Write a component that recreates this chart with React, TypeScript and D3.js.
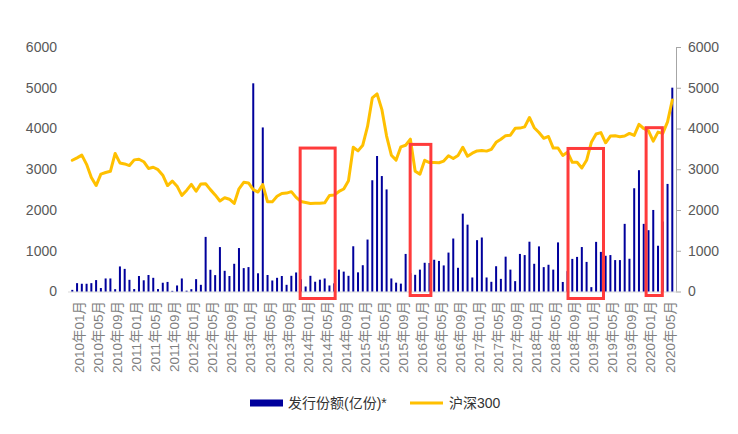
import React from "react";
import * as d3 from "d3";

// Monthly issuance (亿份), 2010-01 .. 2020-07
const issuance: number[] = [
  40, 205, 190, 190, 205, 280, 85, 320, 320, 57, 615, 555,
  287, 60, 380, 275, 405, 336, 60, 215, 235, 16, 148, 320,
  20, 57, 303, 164, 1340, 533, 402, 1090, 508, 380, 680, 1066,
  574, 599, 5109, 447, 4026, 405, 270, 336, 380, 164, 385, 467,
  300, 123, 385, 240, 290, 320, 148, 200, 537, 488, 385, 1110,
  470, 645, 1275, 2730, 3325, 2833, 2505, 320, 217, 193, 922, 450,
  410, 537, 705, 700, 779, 750, 640, 955, 1300, 582, 1910, 1640,
  344, 1260, 1325, 344, 238, 620, 310, 855, 537, 254, 922, 894,
  1222, 680, 1107, 598, 656, 537, 1205, 234, 500, 800, 849, 1091,
  726, 107, 1218, 972, 877, 894, 771, 771, 1660, 804, 2534, 2977,
  1660, 1505, 2001, 1123, 1718, 2640, 5002,
];

// CSI 300 monthly close, 2010-01 .. 2020-07
const csi300: number[] = [
  3220, 3280, 3346, 3120, 2800, 2600, 2880, 2920, 2950, 3387, 3155, 3130,
  3090, 3230, 3245, 3185, 3020, 3050, 2990, 2855, 2600, 2710, 2585, 2360,
  2480, 2630, 2460, 2640, 2645, 2500, 2370, 2220, 2300, 2265, 2160, 2520,
  2680, 2665, 2500, 2440, 2625, 2200, 2200, 2337, 2405, 2415, 2450, 2310,
  2210, 2185, 2160, 2165, 2165, 2175, 2355, 2370, 2455, 2515, 2720, 3540,
  3450, 3590, 4050, 4750, 4850, 4470, 3815, 3345, 3225, 3550, 3590, 3740,
  2950, 2880, 3220, 3165, 3165, 3160, 3200, 3330, 3265, 3340, 3540, 3320,
  3395, 3450, 3460, 3445, 3490, 3660, 3735, 3825, 3835, 4005, 4010, 4040,
  4270, 4020, 3900, 3760, 3805, 3520, 3520, 3338, 3420, 3170, 3170, 3030,
  3220, 3660, 3865, 3900, 3650, 3815, 3820, 3800, 3815, 3880, 3830, 4100,
  4000, 3940, 3690, 3912, 3880, 4164, 4700,
];

const tickLabels: string[] = [
  "2010年01月", "2010年05月", "2010年09月",
  "2011年01月", "2011年05月", "2011年09月",
  "2012年01月", "2012年05月", "2012年09月",
  "2013年01月", "2013年05月", "2013年09月",
  "2014年01月", "2014年05月", "2014年09月",
  "2015年01月", "2015年05月", "2015年09月",
  "2016年01月", "2016年05月", "2016年09月",
  "2017年01月", "2017年05月", "2017年09月",
  "2018年01月", "2018年05月", "2018年09月",
  "2019年01月", "2019年05月", "2019年09月",
  "2020年01月", "2020年05月",
];

const yTicks: number[] = [0, 1000, 2000, 3000, 4000, 5000, 6000];

// Highlight boxes: month-index ranges and top value
const highlightFrom: number[] = [47.85, 70.95, 104.1, 120.5];
const highlightTo: number[] = [55.2, 75.3, 111.55, 123.9];
const highlightTop: number[] = [3520, 3610, 3510, 4020];
const highlightBottomPad: number[] = [7, 4, 7, 4];

const seriesNames = ["发行份额(亿份)*", "沪深300"];

const FONT = '"Liberation Sans", Arial, "Noto Sans CJK SC", sans-serif';

export default function App() {
  const W = 738;
  const H = 434;
  const n = issuance.length;
  const x = d3.scaleLinear().domain([0, n - 1]).range([72.3, 672.3]);
  const y = d3.scaleLinear().domain([0, 6000]).range([291.5, 47]);
  const y0 = y(0);
  const axisX = 676;
  const labelShift = 7;

  const line = d3
    .line<number>()
    .x((_, i) => x(i))
    .y((d) => y(d));

  return (
    <div style={{ position: "absolute", left: 0, top: 0, width: W, height: H, background: "#fff" }}>
      <svg width={W} height={H} style={{ display: "block", fontFamily: FONT }}>
        <rect x={0} y={0} width={W} height={H} fill="#fff" />
        {/* baseline */}
        <line x1={68} x2={axisX} y1={y0 + 0.5} y2={y0 + 0.5} stroke="#d9d9d9" strokeWidth={1} />
        {/* bars */}
        {issuance.map((v, i) => (
          <rect
            key={"b" + i}
            x={x(i) - 1}
            y={y(v)}
            width={2}
            height={y0 - y(v)}
            fill="#00009c"
          />
        ))}
        {/* line */}
        <path
          d={line(csi300) || ""}
          fill="none"
          stroke="#FFC000"
          strokeWidth={3}
          strokeLinejoin="round"
          strokeLinecap="round"
        />
        {/* highlight boxes */}
        {highlightFrom.map((f, i) => (
          <rect
            key={"h" + i}
            x={x(f)}
            y={y(highlightTop[i])}
            width={x(highlightTo[i]) - x(f)}
            height={y0 + highlightBottomPad[i] - y(highlightTop[i])}
            fill="none"
            stroke="#ff3b3b"
            strokeWidth={3}
          />
        ))}
        {/* left axis labels */}
        {yTicks.map((t) => (
          <text
            key={"l" + t}
            x={57}
            y={y(t)}
            dy="0.35em"
            textAnchor="end"
            fontSize={14}
            fill="#595959"
          >
            {t}
          </text>
        ))}
        {/* right axis */}
        <line x1={axisX + 0.5} x2={axisX + 0.5} y1={y(6000)} y2={y0} stroke="#a6a6a6" strokeWidth={1} />
        {yTicks.map((t) => (
          <g key={"r" + t}>
            <line x1={axisX} x2={axisX + 5} y1={y(t) + 0.5} y2={y(t) + 0.5} stroke="#a6a6a6" strokeWidth={1} />
            <text x={688} y={y(t)} dy="0.35em" textAnchor="start" fontSize={14} fill="#595959">
              {t}
            </text>
          </g>
        ))}
        {/* x tick labels */}
        {tickLabels.map((lab, k) => {
          const cx = x(k * 4) + labelShift;
          const ty = 301;
          return (
            <text
              key={"x" + k}
              transform={`translate(${cx},${ty}) rotate(-90)`}
              dy="0.35em"
              textAnchor="end"
              fontSize={13.5}
              fill="#7f7f7f"
            >
              {lab}
            </text>
          );
        })}
        {/* legend */}
        <rect x={250} y={399.5} width={33} height={7} fill="#00009c" />
        <text x={288} y={403} dy="0.35em" fontSize={14} fill="#333">
          {seriesNames[0]}
        </text>
        <line x1={410} x2={443} y1={403} y2={403} stroke="#FFC000" strokeWidth={3} />
        <text x={449} y={403} dy="0.35em" fontSize={14} fill="#333">
          {seriesNames[1]}
        </text>
      </svg>
    </div>
  );
}
